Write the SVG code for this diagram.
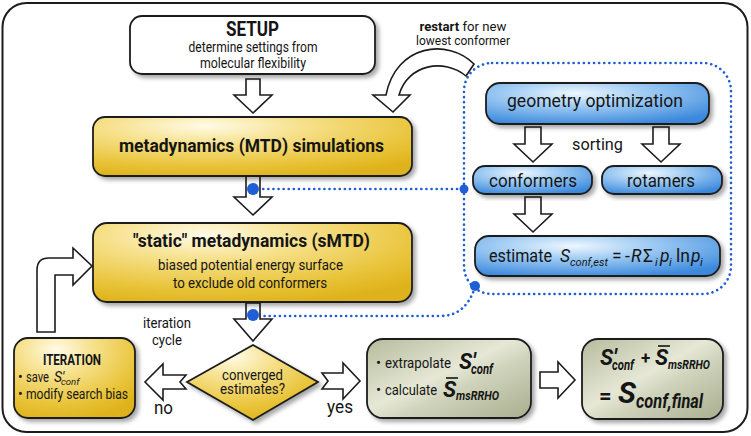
<svg xmlns="http://www.w3.org/2000/svg" width="751" height="436" viewBox="0 0 751 436">
<style>
text{font-family:Roboto,"Liberation Sans",sans-serif;fill:#151515}
.b{font-weight:bold}
.i{font-style:italic}
.bi{font-weight:bold;font-style:italic}
.box{stroke:#1c1c1c;stroke-width:1.8}
.arr{fill:#fff;stroke:#1c1c1c;stroke-width:1.6;stroke-linejoin:miter}
.dot{fill:none;stroke:#1f5fd6;stroke-width:2.6;stroke-dasharray:0.1 5;stroke-linecap:round}
.bd{fill:#1f5fd6}
</style>
<defs>
<radialGradient id="gold" cx="0.35" cy="0.15" r="0.9">
<stop offset="0" stop-color="#fffbe6"/>
<stop offset="0.35" stop-color="#f6e08a"/>
<stop offset="0.75" stop-color="#e9c43a"/>
<stop offset="1" stop-color="#deb21a"/>
</radialGradient>
<radialGradient id="blue" cx="0.4" cy="0.25" r="0.8">
<stop offset="0" stop-color="#eef7ff"/>
<stop offset="0.4" stop-color="#9fcbf3"/>
<stop offset="1" stop-color="#3a88dc"/>
</radialGradient>
<linearGradient id="green" x1="0" y1="0" x2="1" y2="1">
<stop offset="0" stop-color="#b6bb9c"/>
<stop offset="0.45" stop-color="#e6e8d6"/>
<stop offset="0.6" stop-color="#cfd3bb"/>
<stop offset="1" stop-color="#a9ae8e"/>
</linearGradient>
<filter id="sh" x="-10%" y="-10%" width="125%" height="135%">
<feDropShadow dx="3" dy="3" stdDeviation="2" flood-color="#000" flood-opacity="0.35"/>
</filter>
</defs>

<rect x="2.5" y="3" width="745" height="429" rx="24" fill="#fff" stroke="#1c1c1c" stroke-width="2"/>

<g id="connectors">
<rect class="dot" x="464" y="63" width="267" height="231" rx="28"/>
<path class="dot" d="M253 189 L464 189"/>
<path class="dot" d="M475 287 Q466 316 440 316 L253 316"/>
<path class="arr" d="M246 79 L260 79 L260 95 L272 95 L253 113 L234 95 L246 95 Z"/>
<path class="arr" d="M246 176 L260 176 L260 197 L272 197 L253 215 L234 197 L246 197 Z"/>
<path class="arr" d="M246 303 L260 303 L260 319 L272 319 L253 341 L234 319 L246 319 Z"/>
<path class="arr" d="M525 127 L541 127 L541 144 L552 144 L533 162 L514 144 L525 144 Z"/>
<path class="arr" d="M653 127 L669 127 L669 144 L680 144 L661 162 L642 144 L653 144 Z"/>
<path class="arr" d="M525 197 L541 197 L541 214 L552 214 L533 232 L514 214 L525 214 Z"/>
<path class="arr" d="M186 375 L163 375 L163 364 L145 382 L163 400 L163 389 L186 389 L180 382 Z"/>
<path class="arr" d="M322 373 L343 373 L343 363 L360 381 L343 399 L343 389 L322 389 L328 381 Z"/>
<path class="arr" d="M540 372 L558 372 L558 362 L575 380 L558 398 L558 388 L540 388 Z"/>
<path class="arr" d="M37 332 L37 270 Q37 258 49 258 L73 258 L73 248 L92 266 L73 285 L73 275 L55 275 L55 332 Z"/>
<path class="arr" d="M474 64 C448 38 396 44 386 95 L373 95 L393 112 L410 95 L399 95 C408 64 444 58 466 76 Z"/>
<circle class="bd" cx="253" cy="189" r="6"/>
<circle class="bd" cx="464" cy="189" r="4.5"/>
<circle class="bd" cx="253" cy="315" r="6"/>
<circle class="bd" cx="475" cy="286" r="5"/>
</g>

<g id="restart-label">
<text x="463" y="31" font-size="13" text-anchor="middle" textLength="87" lengthAdjust="spacingAndGlyphs"><tspan class="b">restart</tspan> for new</text>
<text x="463" y="45" font-size="13" text-anchor="middle" textLength="94" lengthAdjust="spacingAndGlyphs">lowest conformer</text>
</g>

<g id="setup">
<rect class="box" x="130" y="16" width="245" height="58" rx="12" fill="#fff" filter="url(#sh)"/>
<text class="b" x="252.5" y="36" font-size="19.5" text-anchor="middle" textLength="53" lengthAdjust="spacingAndGlyphs">SETUP</text>
<text x="253" y="52" font-size="14.5" text-anchor="middle" textLength="129" lengthAdjust="spacingAndGlyphs">determine settings from</text>
<text x="253" y="68" font-size="14.5" text-anchor="middle" textLength="106" lengthAdjust="spacingAndGlyphs">molecular flexibility</text>
</g>

<g id="mtd">
<rect class="box" x="93" y="117" width="319" height="59" rx="12" fill="url(#gold)" filter="url(#sh)"/>
<text class="b" x="251.5" y="152" font-size="19" text-anchor="middle" textLength="265" lengthAdjust="spacingAndGlyphs">metadynamics (MTD) simulations</text>
</g>

<g id="smtd">
<rect class="box" x="93" y="223" width="319" height="79" rx="14" fill="url(#gold)" filter="url(#sh)"/>
<text class="b" x="251.5" y="247" font-size="19" text-anchor="middle" textLength="237" lengthAdjust="spacingAndGlyphs">"static" metadynamics (sMTD)</text>
<text x="250.5" y="270" font-size="15.5" text-anchor="middle" textLength="185" lengthAdjust="spacingAndGlyphs">biased potential energy surface</text>
<text x="250" y="288" font-size="15.5" text-anchor="middle" textLength="154" lengthAdjust="spacingAndGlyphs">to exclude old conformers</text>
</g>

<g id="iteration-label">
<text x="167" y="328" font-size="14.5" text-anchor="middle" textLength="48" lengthAdjust="spacingAndGlyphs">iteration</text>
<text x="167" y="345" font-size="14.5" text-anchor="middle" textLength="30" lengthAdjust="spacingAndGlyphs">cycle</text>
</g>

<g id="iteration">
<rect class="box" x="14" y="338" width="121" height="80" rx="14" fill="url(#gold)" filter="url(#sh)"/>
<text class="b" x="72" y="365" font-size="14" text-anchor="middle" textLength="58" lengthAdjust="spacingAndGlyphs">ITERATION</text>
<text x="18" y="382" font-size="14">• <tspan x="26" textLength="23" lengthAdjust="spacingAndGlyphs">save</tspan><tspan class="i" x="54">S'</tspan><tspan class="i" x="61" dy="3" font-size="9.5">conf</tspan></text>
<text x="18" y="399" font-size="14">• <tspan x="26" textLength="102" lengthAdjust="spacingAndGlyphs">modify search bias</tspan></text>
</g>

<g id="converged">
<polygon class="box" points="187,382 253,345 318,382 253,420" fill="url(#gold)" filter="url(#sh)"/>
<text x="252.5" y="380" font-size="14" text-anchor="middle" textLength="61" lengthAdjust="spacingAndGlyphs">converged</text>
<text x="252.5" y="394" font-size="14" text-anchor="middle" textLength="65" lengthAdjust="spacingAndGlyphs">estimates?</text>
</g>

<g id="no-yes-labels">
<text x="163.5" y="414" font-size="17.5" text-anchor="middle" textLength="19" lengthAdjust="spacingAndGlyphs">no</text>
<text x="340" y="413" font-size="17.5" text-anchor="middle" textLength="26" lengthAdjust="spacingAndGlyphs">yes</text>
</g>

<g id="geometry">
<rect class="box" x="486" y="83" width="223" height="41" rx="14" fill="url(#blue)" filter="url(#sh)"/>
<text x="595" y="107" font-size="19" text-anchor="middle" textLength="176" lengthAdjust="spacingAndGlyphs">geometry optimization</text>
</g>

<g id="sorting-label">
<text x="597.5" y="150" font-size="16.5" text-anchor="middle" textLength="51" lengthAdjust="spacingAndGlyphs">sorting</text>
</g>

<g id="conformers">
<rect class="box" x="473" y="166" width="119" height="28" rx="12" fill="url(#blue)" filter="url(#sh)"/>
<text x="533" y="187" font-size="17.5" text-anchor="middle" textLength="88" lengthAdjust="spacingAndGlyphs">conformers</text>
</g>

<g id="rotamers">
<rect class="box" x="602" y="166" width="120" height="28" rx="12" fill="url(#blue)" filter="url(#sh)"/>
<text x="661" y="187" font-size="17.5" text-anchor="middle" textLength="68" lengthAdjust="spacingAndGlyphs">rotamers</text>
</g>

<g id="estimate">
<rect class="box" x="475" y="236" width="245" height="40" rx="14" fill="url(#blue)" filter="url(#sh)"/>
<text x="489" y="262" font-size="17.5"><tspan textLength="63" lengthAdjust="spacingAndGlyphs">estimate</tspan><tspan class="i" x="560">S</tspan><tspan class="i" x="570" dy="4" font-size="11.5" textLength="38" lengthAdjust="spacingAndGlyphs">conf,est</tspan><tspan x="612" dy="-4">=</tspan><tspan x="625">-</tspan><tspan class="i" x="631">R</tspan><tspan x="643">Σ</tspan><tspan class="i" x="655" dy="4" font-size="11.5">i</tspan><tspan class="i" x="660" dy="-4">p</tspan><tspan class="i" x="669" dy="4" font-size="11.5">i</tspan><tspan x="676" dy="-4">ln</tspan><tspan class="i" x="691">p</tspan><tspan class="i" x="700" dy="4" font-size="11.5">i</tspan></text>
</g>

<g id="extrapolate">
<rect class="box" x="367" y="339" width="164" height="79" rx="16" fill="url(#green)" filter="url(#sh)"/>
<text x="376" y="368" font-size="15">•<tspan x="385" textLength="66" lengthAdjust="spacingAndGlyphs">extrapolate</tspan><tspan class="bi" x="459" dy="1" font-size="22">S'</tspan><tspan class="bi" x="471" dy="5" font-size="14" textLength="22" lengthAdjust="spacingAndGlyphs">conf</tspan></text>
<text x="376" y="395" font-size="15">•<tspan x="385" textLength="52" lengthAdjust="spacingAndGlyphs">calculate</tspan><tspan class="bi" x="443" dy="2" font-size="22">S</tspan><tspan class="bi" x="456" dy="3" font-size="13" textLength="43" lengthAdjust="spacingAndGlyphs">msRRHO</tspan></text>
<line x1="446" y1="378" x2="458" y2="378" stroke="#151515" stroke-width="1.6"/>
</g>

<g id="final">
<rect class="box" x="582" y="339" width="141" height="80" rx="16" fill="url(#green)" filter="url(#sh)"/>
<text class="bi" x="600" y="365" font-size="22">S'<tspan x="612" dy="5" font-size="14" textLength="22" lengthAdjust="spacingAndGlyphs">conf</tspan><tspan class="b" x="641" dy="-6" font-size="17" font-style="normal">+</tspan><tspan x="655" dy="1">S</tspan><tspan x="668" dy="4" font-size="13" textLength="42" lengthAdjust="spacingAndGlyphs">msRRHO</tspan></text>
<line x1="658" y1="346" x2="670" y2="346" stroke="#151515" stroke-width="1.6"/>
<text class="b" x="599" y="403" font-size="22">=<tspan class="bi" x="618" font-size="30">S</tspan><tspan class="bi" x="636" dy="5" font-size="21" textLength="67" lengthAdjust="spacingAndGlyphs">conf,final</tspan></text>
</g>
</svg>
